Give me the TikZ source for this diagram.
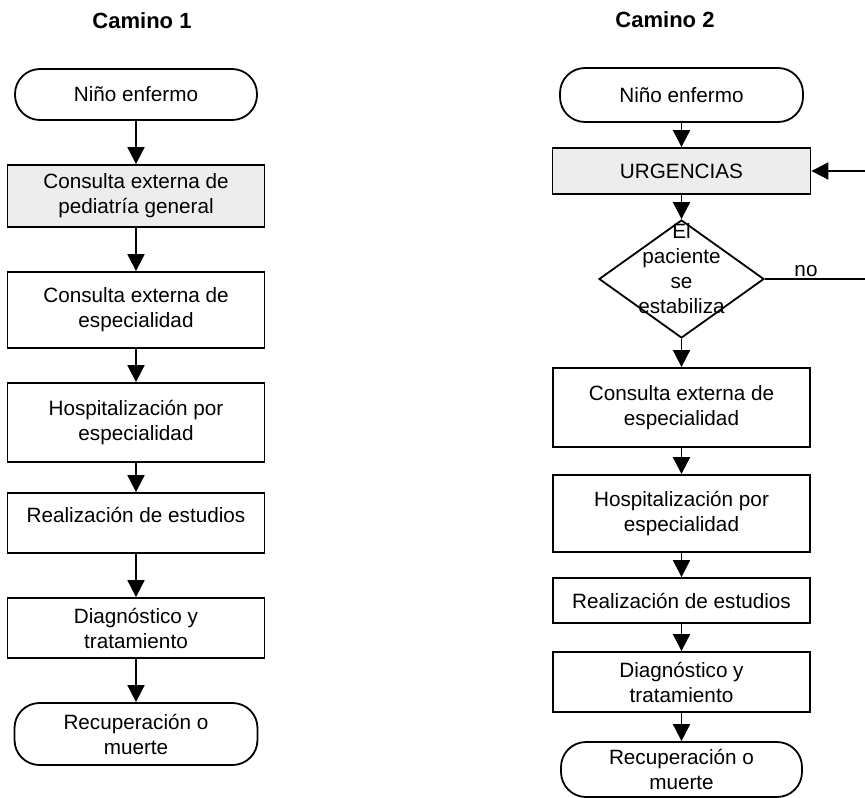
\documentclass[tikz,border=0pt]{standalone}
\usepackage{fontspec}
\setmainfont{Liberation Sans}
\usetikzlibrary{arrows.meta,shapes.geometric}
\begin{document}
\begin{tikzpicture}[x=1pt,y=-1pt,
  every node/.style={font=\fontsize{20.7}{25}\selectfont},
  box/.style={draw, line width=1.8pt, minimum width=257pt, align=center, inner sep=0pt},
  term/.style={box, rounded corners=25pt, minimum width=243pt},
  shaded/.style={box, fill=black!7},
  title/.style={font=\bfseries\fontsize{22}{26}\selectfont},
  conn/.style={line width=1.8pt, -{Triangle[width=17pt,length=17pt]}},
  plain/.style={line width=1.8pt}]
\useasboundingbox (0,0) rectangle (865,798);
% titles
\node[title] (c1) at (142,21) {Camino 1};
\node[title] (c2) at (665,20) {Camino 2};
% left column
\node[term, minimum width=242pt, minimum height=51pt] (t1) at (136,94.5) {Niño enfermo};
\node[shaded, minimum height=62pt] (b1) at (136,196) {Consulta externa de\\pediatría general};
\node[box, minimum height=76pt] (b2) at (136,310) {Consulta externa de\\especialidad};
\node[box, minimum height=79pt] (b3) at (136,422.5) {Hospitalización por\\especialidad};
\node[box, minimum height=60pt] (b4) at (136,523) {};
\node (b4t) at (136,515) {Realización de estudios};
\node[box, minimum height=60pt] (b5) at (136,628) {Diagnóstico y\\tratamiento};
\node[term, minimum height=62pt] (t2) at (136,734) {Recuperación o\\muerte};
\draw[conn] (t1) -- (b1);
\draw[conn] (b1) -- (b2);
\draw[conn] (b2) -- (b3);
\draw[conn] (b3) -- (b4);
\draw[conn] (b4) -- (b5);
\draw[conn] (b5) -- (t2);
% right column
\node[term, minimum height=54pt] (t3) at (681.5,95) {Niño enfermo};
\node[shaded, minimum width=258pt, minimum height=46pt] (u) at (681.5,171) {URGENCIAS};
\node[diamond, draw, line width=1.8pt, minimum width=165pt, minimum height=118pt, inner sep=0pt] (dia) at (681.5,279) {};
\node[align=center] (diat) at (681.5,269) {El\\paciente\\se\\estabiliza};
\node[box, minimum height=79pt] (c) at (681.5,407.5) {Consulta externa de\\especialidad};
\node[box, minimum height=77pt] (h) at (681.5,513.5) {Hospitalización por\\especialidad};
\node[box, minimum height=45pt] (r) at (681.5,600.5) {Realización de estudios};
\node[box, minimum height=60pt] (d) at (681.5,682) {Diagnóstico y\\tratamiento};
\node[term, minimum width=241pt, minimum height=55pt] (t4) at (681.5,769.5) {Recuperación o\\muerte};
\draw[conn] (t3) -- (u);
\draw[conn] (u) -- (dia);
\draw[conn] (dia) -- (c);
\draw[conn] (c) -- (h);
\draw[conn] (h) -- (r);
\draw[conn] (r) -- (d);
\draw[conn] (d) -- (t4);
% loop back
\coordinate (e1) at (865,279);
\coordinate (e2) at (865,171);
\draw[plain] (dia.east) -- (e1);
\node[anchor=base] (no) at (806,276) {no};
\draw[conn] (e2) -- (u.east);
\end{tikzpicture}
\end{document}
